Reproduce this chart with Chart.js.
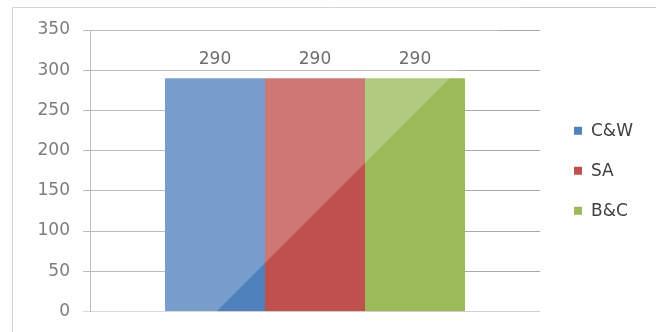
<!DOCTYPE html>
<html>
<head>
<meta charset="utf-8">
<style>
  html, body { margin: 0; padding: 0; background: #ffffff; }
  #wrap { width: 656px; height: 332px; position: relative; }
</style>
<script src="https://cdn.jsdelivr.net/npm/chart.js@4/dist/chart.umd.min.js"></script>
</head>
<body>
<div id="wrap"><canvas id="chart" width="656" height="332"></canvas></div>
<script>
// Data
const categories = [''];
const seriesNames = ['C&W', 'SA', 'B&C'];
const cwValues = [290];
const saValues = [290];
const bcValues = [290];
const yTicks = [0, 50, 100, 150, 200, 250, 300, 350];

const seriesColors = ['#4F81BD', '#C0504D', '#9BBB59'];
const FONT = '"DejaVu Sans", sans-serif';

// Outer frame lines of the chart panel
const framePlugin = {
  id: 'frame',
  beforeDraw(chart) {
    const ctx = chart.ctx;
    ctx.save();
    ctx.fillStyle = '#ffffff';
    ctx.fillRect(0, 0, chart.width, chart.height);
    ctx.strokeStyle = '#c8c8c8';
    ctx.lineWidth = 1;
    ctx.beginPath();
    ctx.moveTo(12.5, chart.height);
    ctx.lineTo(12.5, 7.5);
    ctx.lineTo(chart.width, 7.5);
    ctx.stroke();
    ctx.restore();
  }
};

// Value labels above each bar
const valueLabels = {
  id: 'valueLabels',
  afterDatasetsDraw(chart) {
    const ctx = chart.ctx;
    ctx.save();
    ctx.font = '17px ' + FONT;
    ctx.fillStyle = '#404040';
    ctx.textAlign = 'center';
    ctx.textBaseline = 'alphabetic';
    chart.data.datasets.forEach((ds, i) => {
      chart.getDatasetMeta(i).data.forEach((bar, j) => {
        ctx.fillText(String(ds.data[j]), bar.x, bar.y - 14.5);
      });
    });
    ctx.restore();
  }
};

// Legend at the right of the plot
const sideLegend = {
  id: 'sideLegend',
  afterDraw(chart) {
    const ctx = chart.ctx;
    const area = chart.chartArea;
    const midY = (area.top + area.bottom) / 2;
    const n = chart.data.datasets.length;
    ctx.save();
    ctx.font = '17px ' + FONT;
    ctx.textBaseline = 'middle';
    ctx.textAlign = 'left';
    chart.data.datasets.forEach((ds, i) => {
      const cy = midY + (i - (n - 1) / 2) * 40;
      const bx = area.right + 34;
      ctx.fillStyle = ds.backgroundColor;
      ctx.fillRect(bx, cy - 4, 8, 8);
      ctx.fillStyle = '#404040';
      ctx.fillText(ds.label, bx + 17, cy + 1);
    });
    ctx.restore();
  }
};

// Diagonal light sheen over the upper-left part of the panel
const sheen = {
  id: 'sheen',
  afterDraw(chart) {
    const ctx = chart.ctx;
    ctx.save();
    ctx.fillStyle = 'rgba(255,255,255,0.23)';
    ctx.beginPath();
    ctx.moveTo(0, 0);
    ctx.lineTo(528, 0);
    ctx.lineTo(0, 528);
    ctx.closePath();
    ctx.fill();
    ctx.restore();
  }
};

const valueSets = [cwValues, saValues, bcValues];

new Chart(document.getElementById('chart'), {
  type: 'bar',
  data: {
    labels: categories,
    datasets: seriesNames.map((name, i) => ({
      label: name,
      data: valueSets[i],
      backgroundColor: seriesColors[i],
      borderWidth: 0,
      categoryPercentage: 0.6667,
      barPercentage: 1.0
    }))
  },
  options: {
    responsive: false,
    animation: false,
    devicePixelRatio: 1,
    layout: { padding: { left: 0, right: 116, top: 30, bottom: 20.5 } },
    plugins: {
      legend: { display: false },
      tooltip: { enabled: false }
    },
    scales: {
      x: {
        display: false,
        grid: { display: false }
      },
      y: {
        min: 0,
        max: 350,
        afterBuildTicks(scale) {
          scale.ticks = yTicks.map(v => ({ value: v }));
        },
        afterFit(scale) {
          scale.width = 90;
          scale.paddingTop = 0;
          scale.paddingBottom = 0;
        },
        grid: {
          color: ctx => (ctx.tick && ctx.tick.value === 0) ? '#cfcfcf' : '#a8a8a8',
          tickLength: 7,
          drawTicks: true
        },
        border: { display: true, color: '#a8a8a8' },
        ticks: {
          padding: 13,
          color: '#555555',
          font: { family: FONT, size: 17 }
        }
      }
    }
  },
  plugins: [framePlugin, valueLabels, sideLegend, sheen]
});
</script>
</body>
</html>
